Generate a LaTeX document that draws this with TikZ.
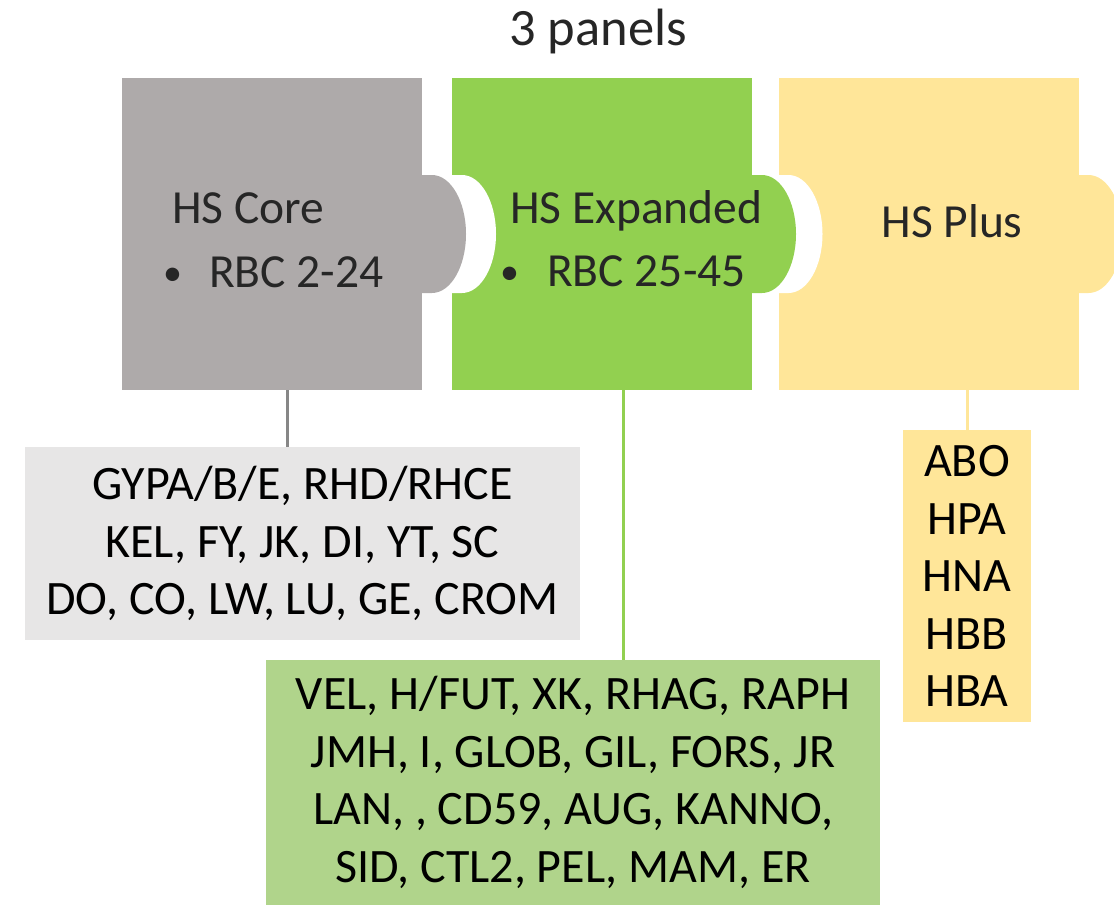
\documentclass[tikz,border=0pt]{standalone}
\usepackage{fontspec}
\setmainfont{Carlito}
\usetikzlibrary{positioning}
\definecolor{coregray}{HTML}{AEAAAA}
\definecolor{expgreen}{HTML}{92D050}
\definecolor{plusyellow}{HTML}{FFE699}
\definecolor{corelistgray}{HTML}{E7E6E6}
\definecolor{explistgreen}{HTML}{B0D48B}
\definecolor{linegray}{HTML}{878787}
\definecolor{ink}{HTML}{262626}
\tikzset{
  panel/.style={minimum width=300pt,minimum height=312pt,inner sep=0pt,outer sep=0pt},
  head/.style={inner sep=0pt,anchor=base west,text=ink,font=\fontsize{47.5}{55}\selectfont},
  genes/.style={inner sep=0pt,outer sep=0pt,align=center,font=\fontsize{48}{57.5}\selectfont},
  link/.style={line width=3pt}
}
\newcommand{\puzzletab}[2]{\fill[#1] ([yshift=59pt]#2) -- ++(10pt,0pt) arc[start angle=90,end angle=-90,x radius=34pt,y radius=59pt] -- ([yshift=-59pt]#2) -- cycle;}
\newcommand{\panelbullet}[1]{\makebox[#1][l]{\fontsize{38}{38}\selectfont\raisebox{2pt}{\textbullet}}}

\begin{document}
\begin{tikzpicture}[x=1pt,y=1pt]
  \useasboundingbox (0,0) rectangle (1114,-905);
  \node[panel,fill=coregray] (core) at (272,-234) {};
  \node[panel,fill=expgreen] (expanded) at (602,-234) {};
  \node[panel,fill=plusyellow] (plus) at (928.5,-234) {};
  \puzzletab{white}{expanded.west}
  \puzzletab{white}{plus.west}
  \puzzletab{coregray}{core.east}
  \puzzletab{expgreen}{expanded.east}
  \puzzletab{plusyellow}{plus.east}

  \node[text=ink,anchor=base,inner sep=0pt,font=\fontsize{52.5}{60}\selectfont] (title) at (598,-45) {3 panels};

  \node[head] (corehead) at (172,-223) {HS Core};
  \node[head] (corebullet) at (163,-287) {\panelbullet{46pt}RBC 2-24};
  \node[head] (exphead) at (510,-223) {HS Expanded};
  \node[head] (expbullet) at (500,-286) {\panelbullet{47pt}RBC 25-45};
  \node[head,anchor=base] (plushead) at (952,-237) {HS Plus};

  \node[genes,fill=corelistgray,minimum width=555pt,minimum height=193pt] (corelist) at (302.5,-543.5)
    {GYPA/B/E, RHD/RHCE\\KEL, FY, JK, DI, YT, SC\\DO, CO, LW, LU, GE, CROM};
  \node[genes,fill=explistgreen,minimum width=614pt,minimum height=245pt] (explist) at (573,-782.5)
    {VEL, H/FUT, XK, RHAG, RAPH\\JMH, I, GLOB, GIL, FORS, JR\\LAN, , CD59, AUG, KANNO,\\SID, CTL2, PEL, MAM, ER};
  \node[genes,fill=plusyellow,minimum width=128pt,minimum height=292pt] (pluslist) at (967,-576)
    {ABO\\HPA\\HNA\\HBB\\HBA};

  \coordinate (corefoot) at ([xshift=15pt]core.south);
  \coordinate (expfoot) at ([xshift=21pt]expanded.south);
  \draw[link,linegray] (corefoot) -- (corefoot |- corelist.north);
  \draw[link,expgreen] (expfoot) -- (expfoot |- explist.north);
  \draw[link,plusyellow] (pluslist.north |- plus.south) -- (pluslist.north);
\end{tikzpicture}
\end{document}
